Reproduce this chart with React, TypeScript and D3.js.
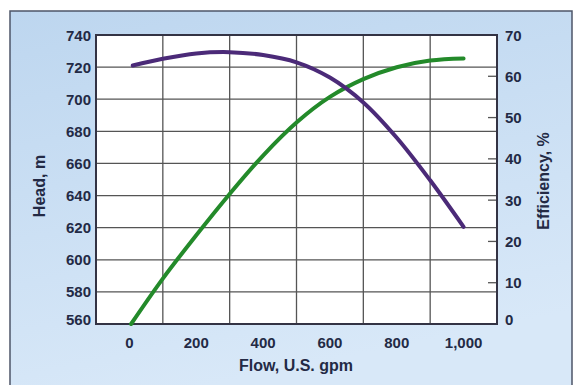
import * as d3 from 'd3';

// flow, U.S. gpm
const headFlow = [10, 100, 200, 300, 400, 500, 600, 700, 800, 900, 1000];
const headValues = [721, 725.2, 728.5, 729.3, 727.5, 723, 713.5, 698, 676, 649.5, 620.5];
const effFlow = [5, 100, 200, 300, 400, 500, 600, 700, 800, 900, 1000];
const effValues = [0, 11, 21.5, 31.5, 40.8, 48.8, 55, 59.3, 62.2, 63.8, 64.3];

const flowTicks = [0, 200, 400, 600, 800, 1000];
const flowGrid = [100, 300, 500, 700, 900];
const headTicks = [560, 580, 600, 620, 640, 660, 680, 700, 720, 740];
const effTicks = [0, 10, 20, 30, 40, 50, 60, 70];

const W = 574;
const H = 385;
const plot = { left: 96, right: 497, top: 35, bottom: 324 };
const ink = '#232a45';
const font = '"Liberation Sans", Arial, sans-serif';

export default function App() {
  const x = d3.scaleLinear().domain([-100, 1100]).range([plot.left, plot.right]);
  const yHead = d3.scaleLinear().domain([560, 740]).range([plot.bottom, plot.top]);
  const yEff = d3.scaleLinear().domain([0, 70]).range([plot.bottom, plot.top]);

  const headLine = d3.line<number>()
    .x((_, i) => x(headFlow[i]))
    .y((d) => yHead(d))
    .curve(d3.curveCatmullRom.alpha(0.5));
  const effLine = d3.line<number>()
    .x((_, i) => x(effFlow[i]))
    .y((d) => yEff(d))
    .curve(d3.curveCatmullRom.alpha(0.5));

  const fmt = d3.format(',');

  return (
    <svg width={W} height={H} viewBox={`0 0 ${W} ${H}`}
      style={{ position: 'absolute', left: 0, top: 0, background: '#fff' }}
      fontFamily={font}>
      <defs>
        <linearGradient id="panel-bg" x1="0" y1="0" x2="0.3" y2="1">
          <stop offset="0" stopColor="#bdd6ef" />
          <stop offset="1" stopColor="#d8e8f8" />
        </linearGradient>
      </defs>
      <rect x={10} y={11} width={562} height={380} fill="url(#panel-bg)" stroke="#4d5568" strokeWidth={1.5} />

      <rect x={plot.left} y={plot.top} width={plot.right - plot.left} height={plot.bottom - plot.top} fill="#fff" />

      {headTicks.slice(1, -1).map((t) => (
        <line key={'h' + t} x1={plot.left} x2={plot.right} y1={yHead(t)} y2={yHead(t)} stroke="#555" strokeWidth={1.3} />
      ))}
      {flowGrid.map((t) => (
        <line key={'v' + t} x1={x(t)} x2={x(t)} y1={plot.top} y2={plot.bottom} stroke="#555" strokeWidth={1.3} />
      ))}
      {effTicks.slice(1, -1).map((t) => (
        <line key={'e' + t} x1={plot.right - 9} x2={plot.right} y1={yEff(t)} y2={yEff(t)} stroke="#555" strokeWidth={1.3} />
      ))}

      <rect x={plot.left} y={plot.top} width={plot.right - plot.left} height={plot.bottom - plot.top}
        fill="none" stroke="#333344" strokeWidth={2} />

      <path d={effLine(effValues) ?? ''} fill="none" stroke="#238a2a" strokeWidth={4} strokeLinecap="round" />
      <path d={headLine(headValues) ?? ''} fill="none" stroke="#4b2a78" strokeWidth={4} strokeLinecap="round" />

      <g fontSize={15} fontWeight="bold" fill={ink}>
        {headTicks.map((t, i) => (
          <text key={'hl' + t} x={plot.left - 5} y={yHead(t) - (i === 0 ? 5 : 0)} textAnchor="end" dominantBaseline="central">{t}</text>
        ))}
        {effTicks.map((t, i) => (
          <text key={'el' + t} x={plot.right + 8} y={yEff(t) - (i === 0 ? 5 : 0)} textAnchor="start" dominantBaseline="central">{t}</text>
        ))}
        {flowTicks.map((t) => (
          <text key={'fl' + t} x={x(t)} y={342} textAnchor="middle" dominantBaseline="central">{fmt(t)}</text>
        ))}
      </g>

      <g fontSize={16} fontWeight="bold" fill={ink}>
        <text x={296} y={365} textAnchor="middle" dominantBaseline="central">Flow, U.S. gpm</text>
        <text transform="translate(39,186) rotate(-90)" textAnchor="middle" dominantBaseline="central">Head, m</text>
        <text transform="translate(543,181) rotate(-90)" textAnchor="middle" dominantBaseline="central">Efficiency, %</text>
      </g>
    </svg>
  );
}
